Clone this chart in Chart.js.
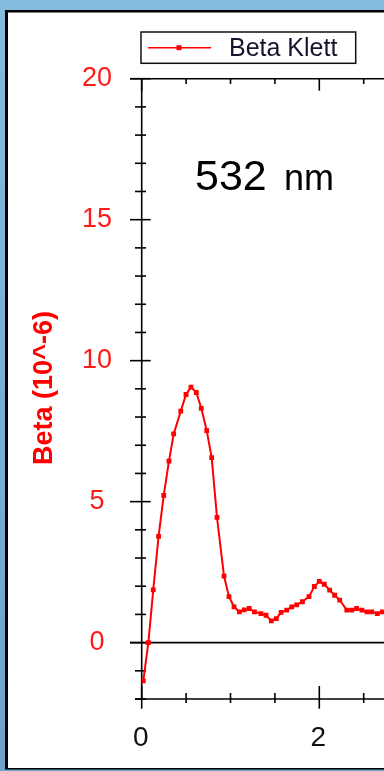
<!DOCTYPE html>
<html>
<head>
<meta charset="utf-8">
<script src="https://cdn.jsdelivr.net/npm/chart.js@4/dist/chart.umd.min.js"></script>
<style>
  html, body { margin: 0; padding: 0; background: #7fb6d8; overflow: hidden; }
  #wrap { width: 384px; height: 771px; overflow: hidden; position: relative; }
  #plot { display: block; }
</style>
</head>
<body>
<div id="wrap"><canvas id="plot" width="520" height="771"></canvas></div>
<script>
// Klett backscatter profile at 532 nm
const heightKm = [
  0.018, 0.075, 0.13, 0.19, 0.248, 0.307, 0.36, 0.44, 0.499, 0.555,
  0.615, 0.671, 0.732, 0.788, 0.848, 0.927, 0.983, 1.04, 1.10, 1.155,
  1.21, 1.27, 1.343, 1.40, 1.46, 1.516, 1.57, 1.633, 1.69, 1.745,
  1.81, 1.884, 1.944, 2.0, 2.056, 2.117, 2.173, 2.23, 2.31, 2.365,
  2.42, 2.48, 2.537, 2.59, 2.653, 2.71, 2.77
];
const betaKlett = [
  -1.36, 0.0, 1.87, 3.77, 5.22, 6.44, 7.40, 8.21, 8.80, 9.06,
  8.87, 8.31, 7.52, 6.56, 4.44, 2.36, 1.63, 1.27, 1.09, 1.16,
  1.21, 1.09, 1.03, 0.97, 0.77, 0.85, 1.07, 1.15, 1.27, 1.34,
  1.45, 1.63, 1.99, 2.17, 2.07, 1.86, 1.68, 1.51, 1.15, 1.15,
  1.21, 1.15, 1.09, 1.09, 1.03, 1.09, 1.12
];
const yTickLabels = [0, 5, 10, 15, 20];
const xTickLabels = [0, 2, 4];
const seriesName = 'Beta Klett';
const yAxisTitle = 'Beta (10^-6)';
const panelNumber = '532';
const panelUnit = 'nm';

const RED = '#ff0000';
const INK = '#000000';

const decor = {
  id: 'decor',
  beforeDraw(chart) {
    const ctx = chart.ctx;
    const W = chart.width, H = chart.height;
    ctx.save();
    const g = ctx.createLinearGradient(0, 0, 0, H);
    g.addColorStop(0, '#84bcdd');
    g.addColorStop(1, '#6fa1c9');
    ctx.fillStyle = g;
    ctx.fillRect(0, 0, W, H);
    // white panel with dark frame
    ctx.fillStyle = '#000';
    ctx.fillRect(5, 10, W, H - 10 - 1.5);
    ctx.fillStyle = '#ffffff';
    ctx.fillRect(8, 12.5, W, H - 12.5 - 3);
    ctx.restore();
  },
  beforeDatasetsDraw(chart) {
    const ctx = chart.ctx;
    const xs = chart.scales.x, ys = chart.scales.y;
    const a = chart.chartArea;
    ctx.save();
    ctx.strokeStyle = INK;
    ctx.lineWidth = 1.6;
    ctx.lineCap = 'butt';
    const line = (x1, y1, x2, y2) => { ctx.beginPath(); ctx.moveTo(x1, y1); ctx.lineTo(x2, y2); ctx.stroke(); };
    // zero line
    const y0 = ys.getPixelForValue(0);
    line(a.left - 11.7, y0, a.right, y0);
    // frame axes
    line(a.left, a.top, a.left, a.bottom);
    line(a.left - 11.7, a.top, a.right, a.top);
    line(a.left - 6.7, a.bottom, a.right, a.bottom);
    // y ticks (crossing the left axis)
    for (let v = ys.min; v <= ys.max; v += 1) {
      const py = ys.getPixelForValue(v);
      const major = yTickLabels.includes(v);
      if (major) line(a.left - 11.7, py, a.left + 9, py);
      else line(a.left - 6.7, py, a.left + 4.3, py);
    }
    // x ticks: bottom crossing, top inward
    for (let v = 0; v <= xs.max; v += 0.5) {
      const px = xs.getPixelForValue(v);
      const major = xTickLabels.includes(v);
      if (major) {
        line(px, a.bottom - 13, px, a.bottom + 9.7);
        line(px, a.top, px, a.top + 12);
      } else {
        line(px, a.bottom - 6, px, a.bottom + 4);
        line(px, a.top, px, a.top + 5.3);
      }
    }
    ctx.restore();
  },
  afterDraw(chart) {
    const ctx = chart.ctx;
    const xs = chart.scales.x, ys = chart.scales.y;
    ctx.save();
    // y tick labels
    ctx.font = '27px "Liberation Sans", Arial, sans-serif';
    ctx.fillStyle = '#ff1a1a';
    ctx.textAlign = 'center';
    ctx.textBaseline = 'middle';
    yTickLabels.forEach(v => ctx.fillText(String(v), 97, ys.getPixelForValue(v)));
    // x tick labels
    ctx.font = '28px "Liberation Sans", Arial, sans-serif';
    ctx.fillStyle = '#111111';
    ctx.textBaseline = 'alphabetic';
    xTickLabels.forEach(v => ctx.fillText(String(v), xs.getPixelForValue(v) - 1, 746));
    // y axis title
    ctx.save();
    ctx.translate(45, 388);
    ctx.rotate(-Math.PI / 2);
    ctx.font = 'bold 27px "Liberation Sans", Arial, sans-serif';
    ctx.fillStyle = RED;
    ctx.textAlign = 'center';
    ctx.textBaseline = 'middle';
    ctx.fillText(yAxisTitle, 0, 0);
    ctx.restore();
    // panel title
    ctx.fillStyle = INK;
    ctx.textAlign = 'left';
    ctx.textBaseline = 'alphabetic';
    ctx.font = '43px "Liberation Sans", Arial, sans-serif';
    ctx.fillText(panelNumber, 195, 189.5);
    ctx.font = '36px "Liberation Sans", Arial, sans-serif';
    ctx.fillText(panelUnit, 284, 189.5);
    // legend
    ctx.strokeStyle = '#111';
    ctx.lineWidth = 1.5;
    ctx.strokeRect(141, 32, 214.7, 31.3);
    ctx.strokeStyle = RED;
    ctx.lineWidth = 1.5;
    ctx.beginPath(); ctx.moveTo(148, 47.7); ctx.lineTo(211, 47.7); ctx.stroke();
    ctx.fillStyle = RED;
    ctx.fillRect(176.5, 45.2, 5, 5);
    ctx.fillStyle = '#14142e';
    ctx.font = '25px "Liberation Sans", Arial, sans-serif';
    ctx.fillText(seriesName, 229, 55.5);
    ctx.restore();
  }
};

new Chart(document.getElementById('plot'), {
  type: 'line',
  data: {
    datasets: [{
      label: seriesName,
      data: heightKm.map((h, i) => ({ x: h, y: betaKlett[i] })),
      borderColor: RED,
      backgroundColor: RED,
      borderWidth: 2,
      pointStyle: 'rect',
      pointRadius: 3.4,
      pointBorderWidth: 0,
      tension: 0,
      fill: false
    }]
  },
  options: {
    responsive: false,
    devicePixelRatio: 1,
    animation: false,
    layout: { padding: { left: 141.7, top: 78.7, right: 23.1, bottom: 72 } },
    scales: {
      x: { type: 'linear', min: 0, max: 4, display: false },
      y: { type: 'linear', min: -2, max: 20, display: false }
    },
    plugins: { legend: { display: false }, tooltip: { enabled: false } }
  },
  plugins: [decor]
});
</script>
</body>
</html>
